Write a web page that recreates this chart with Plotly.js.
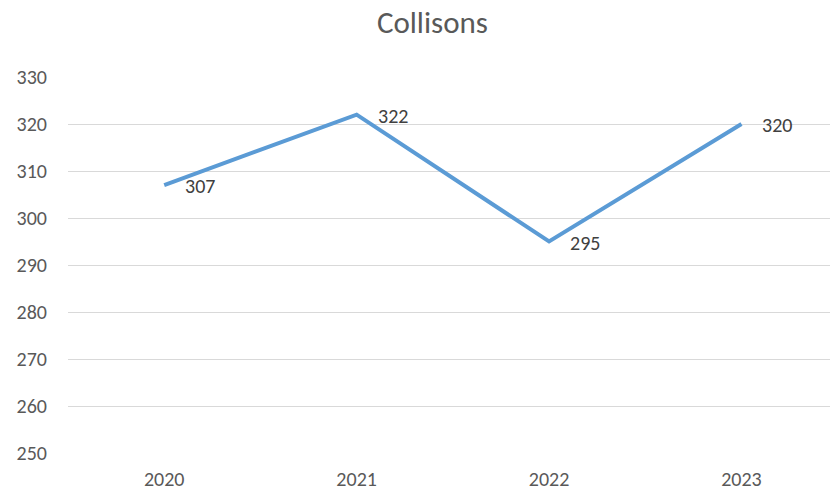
<!DOCTYPE html>
<html><head><meta charset="utf-8">
<script src="https://cdn.plot.ly/plotly-3.0.1.min.js"></script>
<style>html,body{margin:0;padding:0;background:#fff}#chart{width:830px;height:493px}</style>
</head><body><div id="chart"></div>
<script>
const years = ['2020', '2021', '2022', '2023'];
const collisions = [307, 322, 295, 320];
const yTicks = [250, 260, 270, 280, 290, 300, 310, 320, 330];

const font = 'Carlito, Calibri, "Liberation Sans", "Noto Sans", sans-serif';
const trace = {
  x: years, y: collisions, type: 'scatter', mode: 'lines',
  line: {color: '#5B9BD5', width: 4}, hoverinfo: 'none'
};
const annotations = years.map((yr, i) => ({
  x: i, y: collisions[i], xref: 'x', yref: 'y', text: String(collisions[i]), showarrow: false,
  xanchor: 'left', yanchor: 'middle', xshift: 19, yshift: -1,
  font: {family: font, size: 20, color: '#404040'}
}));
const layout = {
  width: 830, height: 493,
  margin: {l: 68, r: 0, t: 77, b: 40},
  paper_bgcolor: '#fff', plot_bgcolor: '#fff',
  showlegend: false,
  title: {text: 'Collisons', x: 0.521, xanchor: 'center', y: 0.955, yanchor: 'middle',
          font: {family: font, size: 31, color: '#595959'}},
  xaxis: {type: 'category', range: [-0.5, 3.46], showgrid: false, zeroline: false,
          showline: false, ticks: '', tickfont: {family: font, size: 20, color: '#595959'},
          ticklabelstandoff: 12},
  yaxis: {range: [250, 330], tickvals: yTicks, showgrid: true, gridcolor: '#D9D9D9', gridwidth: 1,
          zeroline: false, showline: false, ticks: '',
          tickfont: {family: font, size: 20, color: '#595959'}, ticklabelstandoff: 20},
  annotations: annotations
};
Plotly.newPlot('chart', [trace], layout, {displayModeBar: false, staticPlot: true});
</script></body></html>
